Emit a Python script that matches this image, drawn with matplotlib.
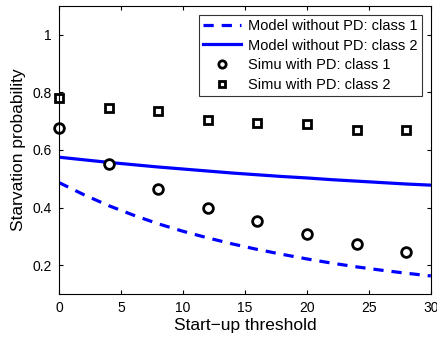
import matplotlib
matplotlib.use("Agg")
import matplotlib.pyplot as plt

plt.rcParams['font.family'] = ['Liberation Sans', 'DejaVu Sans']

# start-up threshold
x_model = [0, 2, 4, 6, 8, 10, 12, 14, 16, 18, 20, 22, 24, 26, 28, 30]
model_c1 = [0.487, 0.445, 0.407, 0.374, 0.344, 0.318, 0.295, 0.274,
            0.255, 0.238, 0.222, 0.2075, 0.1945, 0.183, 0.1725, 0.163]
model_c2 = [0.575, 0.566, 0.557, 0.549, 0.541, 0.534, 0.527, 0.520,
            0.514, 0.508, 0.503, 0.497, 0.492, 0.487, 0.482, 0.478]

x_simu = [0, 4, 8, 12, 16, 20, 24, 28]
simu_c1 = [0.675, 0.550, 0.465, 0.398, 0.353, 0.308, 0.274, 0.246]
simu_c2 = [0.780, 0.745, 0.735, 0.705, 0.695, 0.690, 0.670, 0.668]

fig = plt.figure(figsize=(4.37, 3.46), dpi=100)
ax = fig.add_axes([0.135, 0.150, 0.851, 0.833])

ax.plot(x_model, model_c1, '--', color='blue', lw=2.3, dashes=(3.2, 2.5),
        label='Model without PD: class 1')
ax.plot(x_model, model_c2, '-', color='blue', lw=2.3,
        label='Model without PD: class 2')
ax.plot(x_simu, simu_c1, 'o', mfc='white', mec='black', mew=2, ms=7,
        ls='none', clip_on=False, label='Simu with PD: class 1')
ax.plot(x_simu, simu_c2, 's', mfc='white', mec='black', mew=2, ms=6,
        ls='none', clip_on=False, label='Simu with PD: class 2')

ax.set_xlim(0, 30)
ax.set_ylim(0.1, 1.1)
ax.set_xticks([0, 5, 10, 15, 20, 25, 30])
ax.set_yticks([0.2, 0.4, 0.6, 0.8, 1.0])
ax.set_yticklabels(['0.2', '0.4', '0.6', '0.8', '1'])
ax.tick_params(direction='in', top=True, right=True, labelsize=10,
               length=3, pad=5)
ax.set_xlabel('Start\u2212up threshold', fontsize=12.5, labelpad=2)
ax.set_ylabel('Starvation probability', fontsize=12.5, labelpad=5)

leg = ax.legend(loc='upper right', fontsize=10.5, frameon=True,
                fancybox=False, edgecolor='black', borderaxespad=0.6,
                handlelength=2.6, handletextpad=0.5, labelspacing=0.38,
                borderpad=0.3, markerscale=0.75)
leg.get_frame().set_linewidth(0.8)

fig.savefig('out.png', dpi=100)
